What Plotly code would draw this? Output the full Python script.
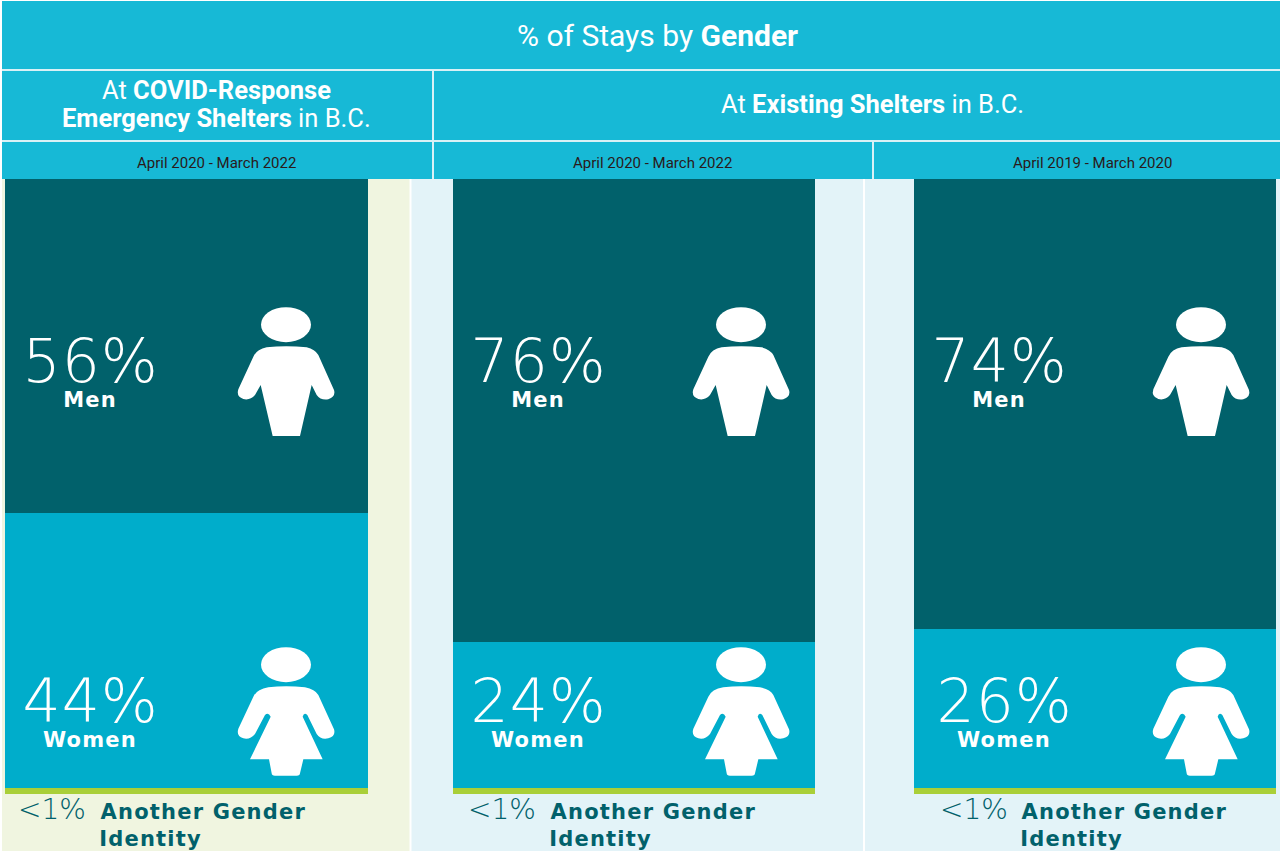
import plotly.graph_objects as go

W, H = 1280, 851

# ---- data ----
periods = ["April 2020 - March 2022", "April 2020 - March 2022", "April 2019 - March 2020"]
men_labels = ["56%", "76%", "74%"]
women_labels = ["44%", "24%", "26%"]
other_label = "<1%"
# bar segment lengths as drawn in the picture (% of the full bar)
men_drawn = [54.3, 75.3, 73.2]
women_drawn = [44.7, 23.7, 25.8]
other_drawn = [1.0, 1.0, 1.0]

# ---- styles ----
C_HEAD = "#17b9d6"
C_RULE = "#d9f1f6"
C_MEN = "#01616b"
C_WOMEN = "#00adcb"
C_OTHER = "#a9cf38"
C_BG = ["#f0f5e0", "#e3f3f8", "#e3f3f8"]
HEAD_FONT = "Roboto"
PCT_FONT = "DejaVu Sans"
LBL_FONT = "DejaVu Sans"


def px(x):
    return x / W


def py(y):
    return 1 - y / H


def rect(x0, y0, x1, y1, color, layer="below"):
    return dict(type="rect", xref="paper", yref="paper", x0=px(x0), x1=px(x1),
                y0=py(y0), y1=py(y1), fillcolor=color, line_width=0, layer=layer)


def rule(x0, y0, x1, y1):
    return dict(type="line", xref="paper", yref="paper", x0=px(x0), x1=px(x1),
                y0=py(y0), y1=py(y1), line=dict(color=C_RULE, width=2), layer="above")


def text(x, y, s, size, color="white", font=HEAD_FONT, anchor="center", weight=None):
    f = dict(size=size, color=color, family=font)
    if weight:
        f["weight"] = weight
    return dict(xref="paper", yref="paper", x=px(x), y=py(y), text=s, showarrow=False,
                xanchor=anchor, yanchor="middle", font=f, borderpad=0, borderwidth=0)


MAN = [("M", 200, 172), ("Q", 258, 165, 320, 172), ("Q", 345, 178, 355, 195), ("L", 402, 300),
       ("Q", 408, 320, 385, 328), ("Q", 362, 332, 350, 315), ("L", 335, 285), ("L", 300, 438),
       ("L", 218, 438), ("L", 182, 285), ("L", 165, 315), ("Q", 150, 332, 130, 327),
       ("Q", 108, 320, 115, 298), ("L", 160, 200), ("Q", 170, 178, 200, 172)]
WOMAN = [("M", 205, 172), ("Q", 258, 165, 315, 172), ("Q", 345, 178, 355, 195), ("L", 402, 298),
         ("Q", 408, 318, 385, 325), ("Q", 362, 330, 350, 312), ("L", 322, 255), ("Q", 312, 245, 308, 260),
         ("L", 368, 388), ("L", 310, 388), ("L", 300, 430), ("Q", 300, 437, 290, 437), ("L", 225, 437),
         ("Q", 215, 437, 215, 430), ("L", 207, 388), ("L", 150, 388), ("L", 212, 260), ("Q", 205, 245, 195, 255),
         ("L", 165, 312), ("Q", 150, 330, 130, 325), ("Q", 108, 318, 115, 296), ("L", 160, 200),
         ("Q", 170, 178, 205, 172)]


def icon(outline, ox, oy):
    parts = []
    for seg in outline:
        nums = seg[1:]
        pts = []
        for i in range(0, len(nums), 2):
            pts.append(f"{px(ox + nums[i] / 3):.5f},{py(oy + nums[i + 1] / 3):.5f}")
        parts.append(seg[0] + " ".join(pts))
    body = dict(type="path", xref="paper", yref="paper", path=" ".join(parts) + " Z",
                fillcolor="white", line_width=0, layer="above")
    head_cx, head_cy = ox + 258 / 3, oy + 104 / 3
    head = dict(type="circle", xref="paper", yref="paper", x0=px(head_cx - 25), x1=px(head_cx + 25),
                y0=py(head_cy + 17.5), y1=py(head_cy - 17.5), fillcolor="white", line_width=0, layer="above")
    return [body, head]


# ---- geometry (pixels) ----
BAR_X = [(5, 368), (452.5, 815), (913.5, 1276)]
BAR_TOP, BAR_BOT = 179, 794
PANELS = [(2, 409.5), (411.5, 863), (865, 1280)]
ICON_DX = [200, 655, 1115]
PCT_X = [90, 538, 999]
WOM_X = [90, 538, 1004]
OTHER_PCT_X = [52, 502, 974]
AG_X = [203, 653, 1124]
ID_X = [150, 600, 1071]

fig = go.Figure()
for i in range(3):
    sfx = "" if i == 0 else str(i + 1)
    common = dict(x=[periods[i]], xaxis="x" + sfx, yaxis="y" + sfx, width=1, hoverinfo="skip", showlegend=False)
    fig.add_bar(y=[other_drawn[i]], marker=dict(color=C_OTHER, line_width=0), name="Another Gender Identity", **common)
    fig.add_bar(y=[women_drawn[i]], marker=dict(color=C_WOMEN, line_width=0), name="Women", **common)
    fig.add_bar(y=[men_drawn[i]], marker=dict(color=C_MEN, line_width=0), name="Men", **common)

axes = {}
for i in range(3):
    sfx = "" if i == 0 else str(i + 1)
    axes["xaxis" + sfx] = dict(domain=[px(BAR_X[i][0]), px(BAR_X[i][1])], visible=False, type="category",
                               anchor="y" + sfx, fixedrange=True)
    axes["yaxis" + sfx] = dict(domain=[py(BAR_BOT), py(BAR_TOP)], range=[0, 100], visible=False,
                               anchor="x" + sfx, fixedrange=True)

shapes = [rect(a, 179, b, 851, c) for (a, b), c in zip(PANELS, C_BG)]
shapes += [rect(2, 1, 1280, 179, C_HEAD, layer="above")]
shapes += [rule(2, 70, 1280, 70), rule(2, 141, 1280, 141), rule(433, 70, 433, 179), rule(873, 141, 873, 179)]
for dx in ICON_DX:
    shapes += icon(MAN, dx, 290) + icon(WOMAN, dx, 630)

anns = [
    text(657, 35.5, "% of Stays by <b>Gender</b>", 30),
    text(216, 90, "At <b>COVID-Response</b>", 25.5),
    text(216, 118, "<b>Emergency Shelters</b> in B.C.", 25.5),
    text(872, 104, "At <b>Existing Shelters</b> in B.C.", 25.5),
]
for cx, p in zip([216, 652, 1092], periods):
    anns.append(text(cx, 163, p, 15, color="#2a1a1a"))
for i in range(3):
    anns.append(text(PCT_X[i], 361, men_labels[i], 60, font=PCT_FONT, weight=200))
    anns.append(text(PCT_X[i], 400, "<b>Men</b>", 21, font=LBL_FONT))
    anns.append(text(WOM_X[i], 701, women_labels[i], 60, font=PCT_FONT, weight=200))
    anns.append(text(WOM_X[i], 740, "<b>Women</b>", 21, font=LBL_FONT))
    anns.append(text(OTHER_PCT_X[i], 809, other_label, 28, color=C_MEN, font=PCT_FONT, weight=200))
    anns.append(text(AG_X[i], 812, "<b>Another Gender</b>", 21, color=C_MEN, font=LBL_FONT))
    anns.append(text(ID_X[i], 839, "<b>Identity</b>", 21, color=C_MEN, font=LBL_FONT))

fig.update_layout(width=W, height=H, margin=dict(l=0, r=0, t=0, b=0, pad=0), barmode="stack", bargap=0,
                  paper_bgcolor="white", plot_bgcolor="rgba(0,0,0,0)", shapes=shapes, annotations=anns,
                  showlegend=False, **axes)
POST = """
document.body.style.margin='0';document.documentElement.style.overflow='hidden';
function _sp(){document.querySelectorAll('.annotation-text').forEach(function(t){
 var s=t.textContent;
 if(['Men','Women','Another Gender','Identity'].indexOf(s)>=0){t.style.letterSpacing='1.2px';}
 else if(/^[0-9]+%$/.test(s)){t.style.letterSpacing='1px';}
});}
_sp();setTimeout(_sp,100);
"""
fig.write_html("out.html", config=dict(displayModeBar=False), post_script=POST)
